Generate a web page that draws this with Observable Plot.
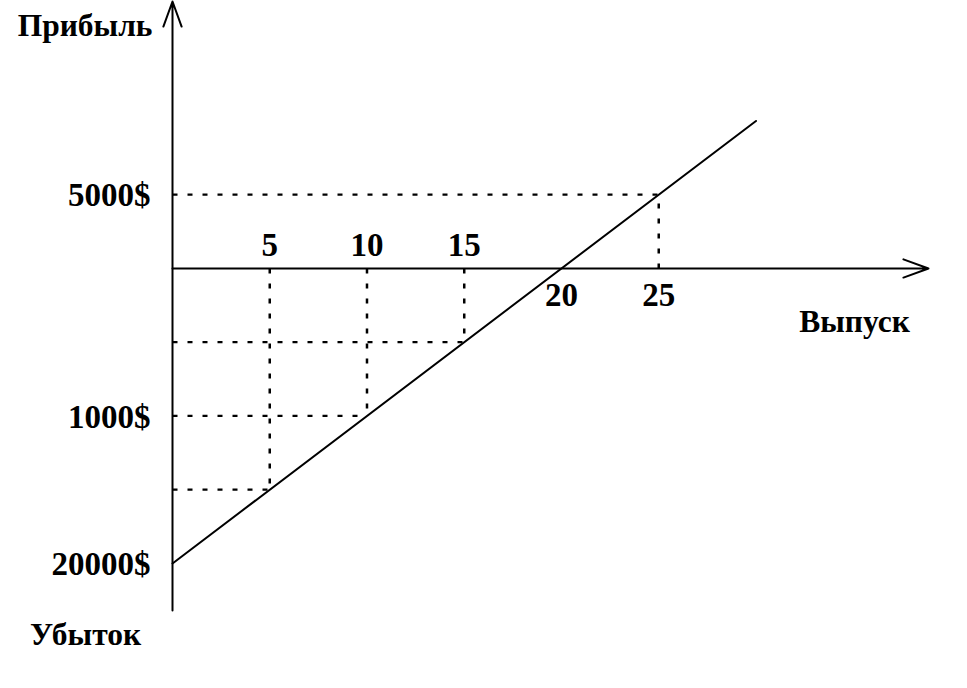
<!DOCTYPE html>
<html>
<head>
<meta charset="utf-8">
<script src="https://cdn.jsdelivr.net/npm/d3@7"></script>
<script src="https://cdn.jsdelivr.net/npm/@observablehq/plot@0.6"></script>
<style>
  html, body { margin: 0; padding: 0; background: #fff; }
  svg { display: block; }
</style>
</head>
<body>
<div id="chart"></div>
<script>
// Break-even line: output (units) vs profit ($)
const output = [0, 30];
const profit = [-20000, 10000];

// Dotted guide points on the line
const guideOutput = [5, 10, 15, 25];
const guideProfit = [-15000, -10000, -5000, 5000];

// X tick labels (above / below the axis)
const ticksAbove = [5, 10, 15];
const ticksBelow = [20, 25];

// Y tick labels as printed in the original
const yTickValues = [5000, -10000, -20000];
const yTickLabels = ["5000$", "1000$", "20000$"];

// Axis titles
const titleProfit = "Прибыль";
const titleLoss = "Убыток";
const titleOutput = "Выпуск";

// Scale extents (axis lines run to the edges of the frame)
const xDomain = [0, 38.87];
const yDomain = [-23190, 18100];

const lineData = output.map((x, i) => ({x, y: profit[i]}));
const guides = guideOutput.map((x, i) => ({x, y: guideProfit[i]}));
const yTicks = yTickValues.map((v, i) => ({y: v, label: yTickLabels[i]}));

const font = "'Liberation Serif', 'Times New Roman', serif";
const fs = 33;
const dash = "5,10";
const txt = {fontSize: fs, fontWeight: "bold", fill: "#000", lineAnchor: "middle"};
const ttl = {...txt, fontSize: 31.5};

const chart = Plot.plot({
  width: 967,
  height: 688,
  marginLeft: 172,
  marginRight: 39,
  marginTop: 1,
  marginBottom: 78,
  x: {domain: xDomain, axis: null},
  y: {domain: yDomain, axis: null},
  style: {fontFamily: font, background: "#fff"},
  marks: [
    // dotted guides: vertical from axis to line
    Plot.link(guides, {x1: "x", x2: "x", y1: 0, y2: "y", stroke: "#000", strokeWidth: 2.5, strokeDasharray: dash}),
    // dotted guides: horizontal from y-axis to line
    Plot.link(guides, {x1: 0, x2: "x", y1: "y", y2: "y", stroke: "#000", strokeWidth: 2.2, strokeDasharray: dash}),
    // axes with open arrowheads
    Plot.arrow([0], {x1: 0, x2: 0, y1: yDomain[0], y2: yDomain[1], stroke: "#000", strokeWidth: 2, headLength: 20, headAngle: 40}),
    Plot.arrow([0], {x1: 0, x2: xDomain[1], y1: 0, y2: 0, stroke: "#000", strokeWidth: 2, headLength: 20, headAngle: 40}),
    // profit line
    Plot.line(lineData, {x: "x", y: "y", stroke: "#000", strokeWidth: 2}),
    // x tick labels
    Plot.text(ticksAbove, {x: d => d, y: 0, text: d => String(d), dy: -23, ...txt}),
    Plot.text(ticksBelow, {x: d => d, y: 0, text: d => String(d), dy: 27, ...txt}),
    // y tick labels
    Plot.text(yTicks, {x: 0, y: "y", text: "label", textAnchor: "end", dx: -22, dy: 1, ...txt}),
    // axis titles
    Plot.text([titleProfit], {frameAnchor: "top-left", text: d => d, textAnchor: "end", dx: -20, dy: 24, ...ttl}),
    Plot.text([titleLoss], {frameAnchor: "bottom-left", text: d => d, textAnchor: "middle", dx: -87, dy: 24, ...ttl}),
    Plot.text([titleOutput], {frameAnchor: "right", text: d => d, textAnchor: "middle", dx: -74, dy: 16, ...ttl})
  ]
});
document.getElementById("chart").appendChild(chart);
</script>
</body>
</html>
